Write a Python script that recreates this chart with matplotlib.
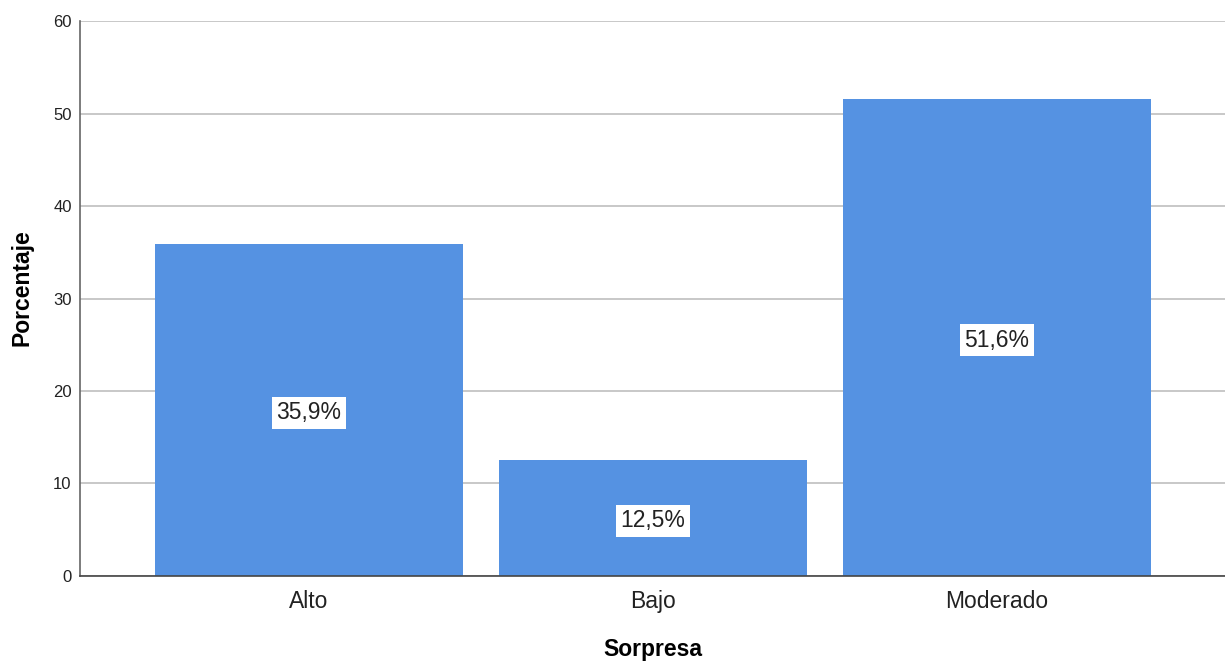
import matplotlib.pyplot as plt

plt.rcParams['font.family'] = ['Liberation Sans', 'DejaVu Sans']

categorias = ["Alto", "Bajo", "Moderado"]
porcentajes = [35.9, 12.5, 51.6]
etiquetas = ["35,9%", "12,5%", "51,6%"]
y_ticks = [0, 10, 20, 30, 40, 50, 60]

fig = plt.figure(figsize=(12.25, 6.61), dpi=100)
ax = fig.add_axes([80 / 1225, 0.1286, 1 - 80 / 1225, 0.8396])

x = range(len(categorias))
ax.bar(x, porcentajes, width=0.895, color='#5592E2', zorder=2)

# etiquetas en el centro de cada barra
for xi, v, lab in zip(x, porcentajes, etiquetas):
    ax.text(xi, v / 2 - 0.3, lab, ha='center', va='center', fontsize=16.5, color='#222222',
            bbox=dict(facecolor='white', edgecolor='none', boxstyle='square,pad=0.2'), zorder=3)

ax.set_xlim(-0.666, 2.663)
ax.set_ylim(0, 60)
ax.set_yticks(y_ticks)
ax.set_xticks(list(x))
ax.set_xticklabels(categorias, fontsize=16.5, color='#222222')
ax.tick_params(axis='y', labelsize=12, labelcolor='#222222', length=0, pad=6)
ax.tick_params(axis='x', length=0, pad=10)

ax.grid(axis='y', color='#C4C4C4', linewidth=1.3, zorder=1)
ax.set_axisbelow(True)
for s in ['top', 'right']:
    ax.spines[s].set_visible(False)
ax.spines['left'].set_color('#666666')
ax.spines['bottom'].set_color('#444444')
ax.spines['left'].set_linewidth(1.2)
ax.spines['bottom'].set_linewidth(1.2)

ax.set_ylabel("Porcentaje", fontsize=16.5, fontweight='bold')
ax.yaxis.set_label_coords(-0.041, 0.52)
ax.set_xlabel("Sorpresa", fontsize=16.5, fontweight='bold', labelpad=18)

fig.savefig("out.png", dpi=100)
